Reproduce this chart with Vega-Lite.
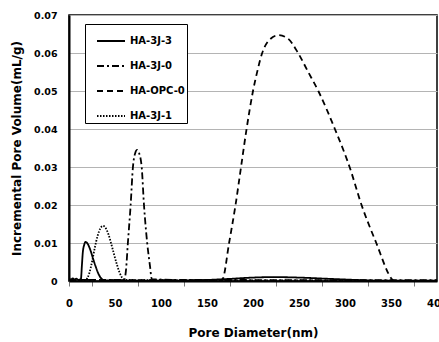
{
  "$schema": "https://vega.github.io/schema/vega-lite/v6.json",
  "width": 368,
  "height": 266,
  "autosize": {"type": "none"},
  "padding": {"left": 69, "top": 15, "right": 2, "bottom": 61},
  "background": "white",
  "config": {
    "font": "DejaVu Sans",
    "view": {"stroke": "black", "strokeWidth": 1.5}
  },
  "datasets": {
    "pts": [
      {"s": "HA-3J-3", "d": 0, "v": 0.0009}, {"s": "HA-3J-3", "d": 2, "v": 0.0003}, {"s": "HA-3J-3", "d": 4, "v": 0.0007}, {"s": "HA-3J-3", "d": 6, "v": 0.0004}, {"s": "HA-3J-3", "d": 8, "v": 0.0006}, {"s": "HA-3J-3", "d": 10, "v": 0.0003}, {"s": "HA-3J-3", "d": 12, "v": 0.0004}, {"s": "HA-3J-3", "d": 13, "v": 0.0006}, {"s": "HA-3J-3", "d": 14, "v": 0.004}, {"s": "HA-3J-3", "d": 15, "v": 0.0075}, {"s": "HA-3J-3", "d": 16.5, "v": 0.0095}, {"s": "HA-3J-3", "d": 18, "v": 0.0103}, {"s": "HA-3J-3", "d": 20, "v": 0.0099}, {"s": "HA-3J-3", "d": 23, "v": 0.0083}, {"s": "HA-3J-3", "d": 26, "v": 0.006}, {"s": "HA-3J-3", "d": 29, "v": 0.0038}, {"s": "HA-3J-3", "d": 32, "v": 0.0019}, {"s": "HA-3J-3", "d": 35, "v": 0.0007}, {"s": "HA-3J-3", "d": 38, "v": 0.0002}, {"s": "HA-3J-3", "d": 60, "v": 0.0001}, {"s": "HA-3J-3", "d": 100, "v": 0.0001}, {"s": "HA-3J-3", "d": 140, "v": 0.0002}, {"s": "HA-3J-3", "d": 170, "v": 0.0005}, {"s": "HA-3J-3", "d": 200, "v": 0.0009}, {"s": "HA-3J-3", "d": 215, "v": 0.001}, {"s": "HA-3J-3", "d": 230, "v": 0.001}, {"s": "HA-3J-3", "d": 250, "v": 0.0009}, {"s": "HA-3J-3", "d": 280, "v": 0.0006}, {"s": "HA-3J-3", "d": 310, "v": 0.0003}, {"s": "HA-3J-3", "d": 340, "v": 0.0001}, {"s": "HA-3J-3", "d": 400, "v": 0.0001},
      {"s": "HA-3J-0", "d": 0, "v": 0.0003}, {"s": "HA-3J-0", "d": 60, "v": 0.0003}, {"s": "HA-3J-0", "d": 62, "v": 0.003}, {"s": "HA-3J-0", "d": 64, "v": 0.01}, {"s": "HA-3J-0", "d": 67, "v": 0.02}, {"s": "HA-3J-0", "d": 69.5, "v": 0.03}, {"s": "HA-3J-0", "d": 72, "v": 0.0337}, {"s": "HA-3J-0", "d": 74, "v": 0.0345}, {"s": "HA-3J-0", "d": 76, "v": 0.0338}, {"s": "HA-3J-0", "d": 79, "v": 0.03}, {"s": "HA-3J-0", "d": 81.5, "v": 0.02}, {"s": "HA-3J-0", "d": 85, "v": 0.01}, {"s": "HA-3J-0", "d": 88, "v": 0.004}, {"s": "HA-3J-0", "d": 90, "v": 0.0005}, {"s": "HA-3J-0", "d": 120, "v": 0.0003}, {"s": "HA-3J-0", "d": 400, "v": 0.0002},
      {"s": "HA-OPC-0", "d": 0, "v": 0.0003}, {"s": "HA-OPC-0", "d": 165, "v": 0.0002}, {"s": "HA-OPC-0", "d": 167, "v": 0.0005}, {"s": "HA-OPC-0", "d": 174, "v": 0.01}, {"s": "HA-OPC-0", "d": 181, "v": 0.02}, {"s": "HA-OPC-0", "d": 187, "v": 0.03}, {"s": "HA-OPC-0", "d": 193, "v": 0.04}, {"s": "HA-OPC-0", "d": 200, "v": 0.05}, {"s": "HA-OPC-0", "d": 205, "v": 0.0555}, {"s": "HA-OPC-0", "d": 210, "v": 0.06}, {"s": "HA-OPC-0", "d": 218, "v": 0.0635}, {"s": "HA-OPC-0", "d": 228, "v": 0.0647}, {"s": "HA-OPC-0", "d": 238, "v": 0.0638}, {"s": "HA-OPC-0", "d": 249, "v": 0.06}, {"s": "HA-OPC-0", "d": 260, "v": 0.055}, {"s": "HA-OPC-0", "d": 271, "v": 0.05}, {"s": "HA-OPC-0", "d": 289, "v": 0.04}, {"s": "HA-OPC-0", "d": 305, "v": 0.03}, {"s": "HA-OPC-0", "d": 318, "v": 0.02}, {"s": "HA-OPC-0", "d": 334, "v": 0.01}, {"s": "HA-OPC-0", "d": 350, "v": 0.0008}, {"s": "HA-OPC-0", "d": 352, "v": 0.0002},
      {"s": "HA-3J-1", "d": 0, "v": 0.0002}, {"s": "HA-3J-1", "d": 18, "v": 0.0002}, {"s": "HA-3J-1", "d": 20, "v": 0.0008}, {"s": "HA-3J-1", "d": 22, "v": 0.002}, {"s": "HA-3J-1", "d": 25, "v": 0.005}, {"s": "HA-3J-1", "d": 28, "v": 0.0087}, {"s": "HA-3J-1", "d": 31, "v": 0.0118}, {"s": "HA-3J-1", "d": 34, "v": 0.0138}, {"s": "HA-3J-1", "d": 37, "v": 0.0145}, {"s": "HA-3J-1", "d": 40, "v": 0.0139}, {"s": "HA-3J-1", "d": 43, "v": 0.0122}, {"s": "HA-3J-1", "d": 46, "v": 0.0097}, {"s": "HA-3J-1", "d": 49, "v": 0.007}, {"s": "HA-3J-1", "d": 52, "v": 0.0044}, {"s": "HA-3J-1", "d": 55, "v": 0.0022}, {"s": "HA-3J-1", "d": 58, "v": 0.0008}, {"s": "HA-3J-1", "d": 61, "v": 0.0003}, {"s": "HA-3J-1", "d": 100, "v": 0.0002}, {"s": "HA-3J-1", "d": 400, "v": 0.0001}
    ]
  },
  "data": {"name": "pts"},
  "mark": {"type": "line", "color": "black", "strokeWidth": 1.8, "interpolate": "monotone", "clip": true},
  "encoding": {
    "x": {
      "field": "d", "type": "quantitative",
      "scale": {"domain": [0, 400], "nice": false, "zero": true},
      "axis": {
        "title": "Pore Diameter(nm)",
        "values": [0, 25, 50, 75, 100, 125, 150, 175, 200, 225, 250, 275, 300, 325, 350, 375, 400],
        "labelExpr": "datum.value % 50 == 0 ? datum.label : ''",
        "tickOpacity": {"condition": {"test": "datum.value % 50 == 0 && datum.value > 0", "value": 0}, "value": 1},
        "grid": false,
        "domainColor": "black", "domainWidth": 2,
        "tickColor": "#777777", "tickSize": 5,
        "labelFont": "DejaVu Sans", "labelFontWeight": "bold", "labelFontSize": 10, "labelColor": "black",
        "labelPadding": 12, "labelFlush": false, "labelOverlap": false,
        "titleFont": "DejaVu Sans", "titleFontWeight": "bold", "titleFontSize": 12, "titleColor": "black",
        "titlePadding": 19
      }
    },
    "y": {
      "field": "v", "type": "quantitative",
      "scale": {"domain": [0, 0.07], "nice": false},
      "axis": {
        "title": "Incremental Pore Volume(mL/g)",
        "values": [0, 0.01, 0.02, 0.03, 0.04, 0.05, 0.06, 0.07],
        "labelExpr": "datum.value == 0 ? '0' : format(datum.value, '.2f')",
        "grid": true, "gridColor": "#b4b4b4", "gridWidth": 1,
        "domainColor": "black", "domainWidth": 2,
        "ticks": false, "labelPadding": 12,
        "labelFont": "DejaVu Sans", "labelFontWeight": "bold", "labelFontSize": 9.5, "labelColor": "black",
        "labelFlush": false, "labelOverlap": false,
        "titleFont": "DejaVu Sans", "titleFontWeight": "bold", "titleFontSize": 12, "titleColor": "black",
        "titlePadding": 10
      }
    },
    "strokeDash": {
      "field": "s", "type": "nominal",
      "scale": {
        "domain": ["HA-3J-3", "HA-3J-0", "HA-OPC-0", "HA-3J-1"],
        "range": [[1, 0], [7, 3, 2, 3], [6, 4], [1.5, 1.5]]
      },
      "legend": {
        "title": null,
        "orient": "none", "legendX": 16, "legendY": 9,
        "symbolType": "stroke", "symbolSize": 784, "symbolStrokeWidth": 1.8, "symbolStrokeColor": "black",
        "symbolOffset": 9,
        "labelFont": "DejaVu Sans", "labelFontWeight": "bold", "labelFontSize": 10, "labelColor": "black",
        "labelOffset": 4,
        "rowPadding": 5, "padding": 2,
        "strokeColor": "black", "fillColor": "white"
      }
    }
  }
}
